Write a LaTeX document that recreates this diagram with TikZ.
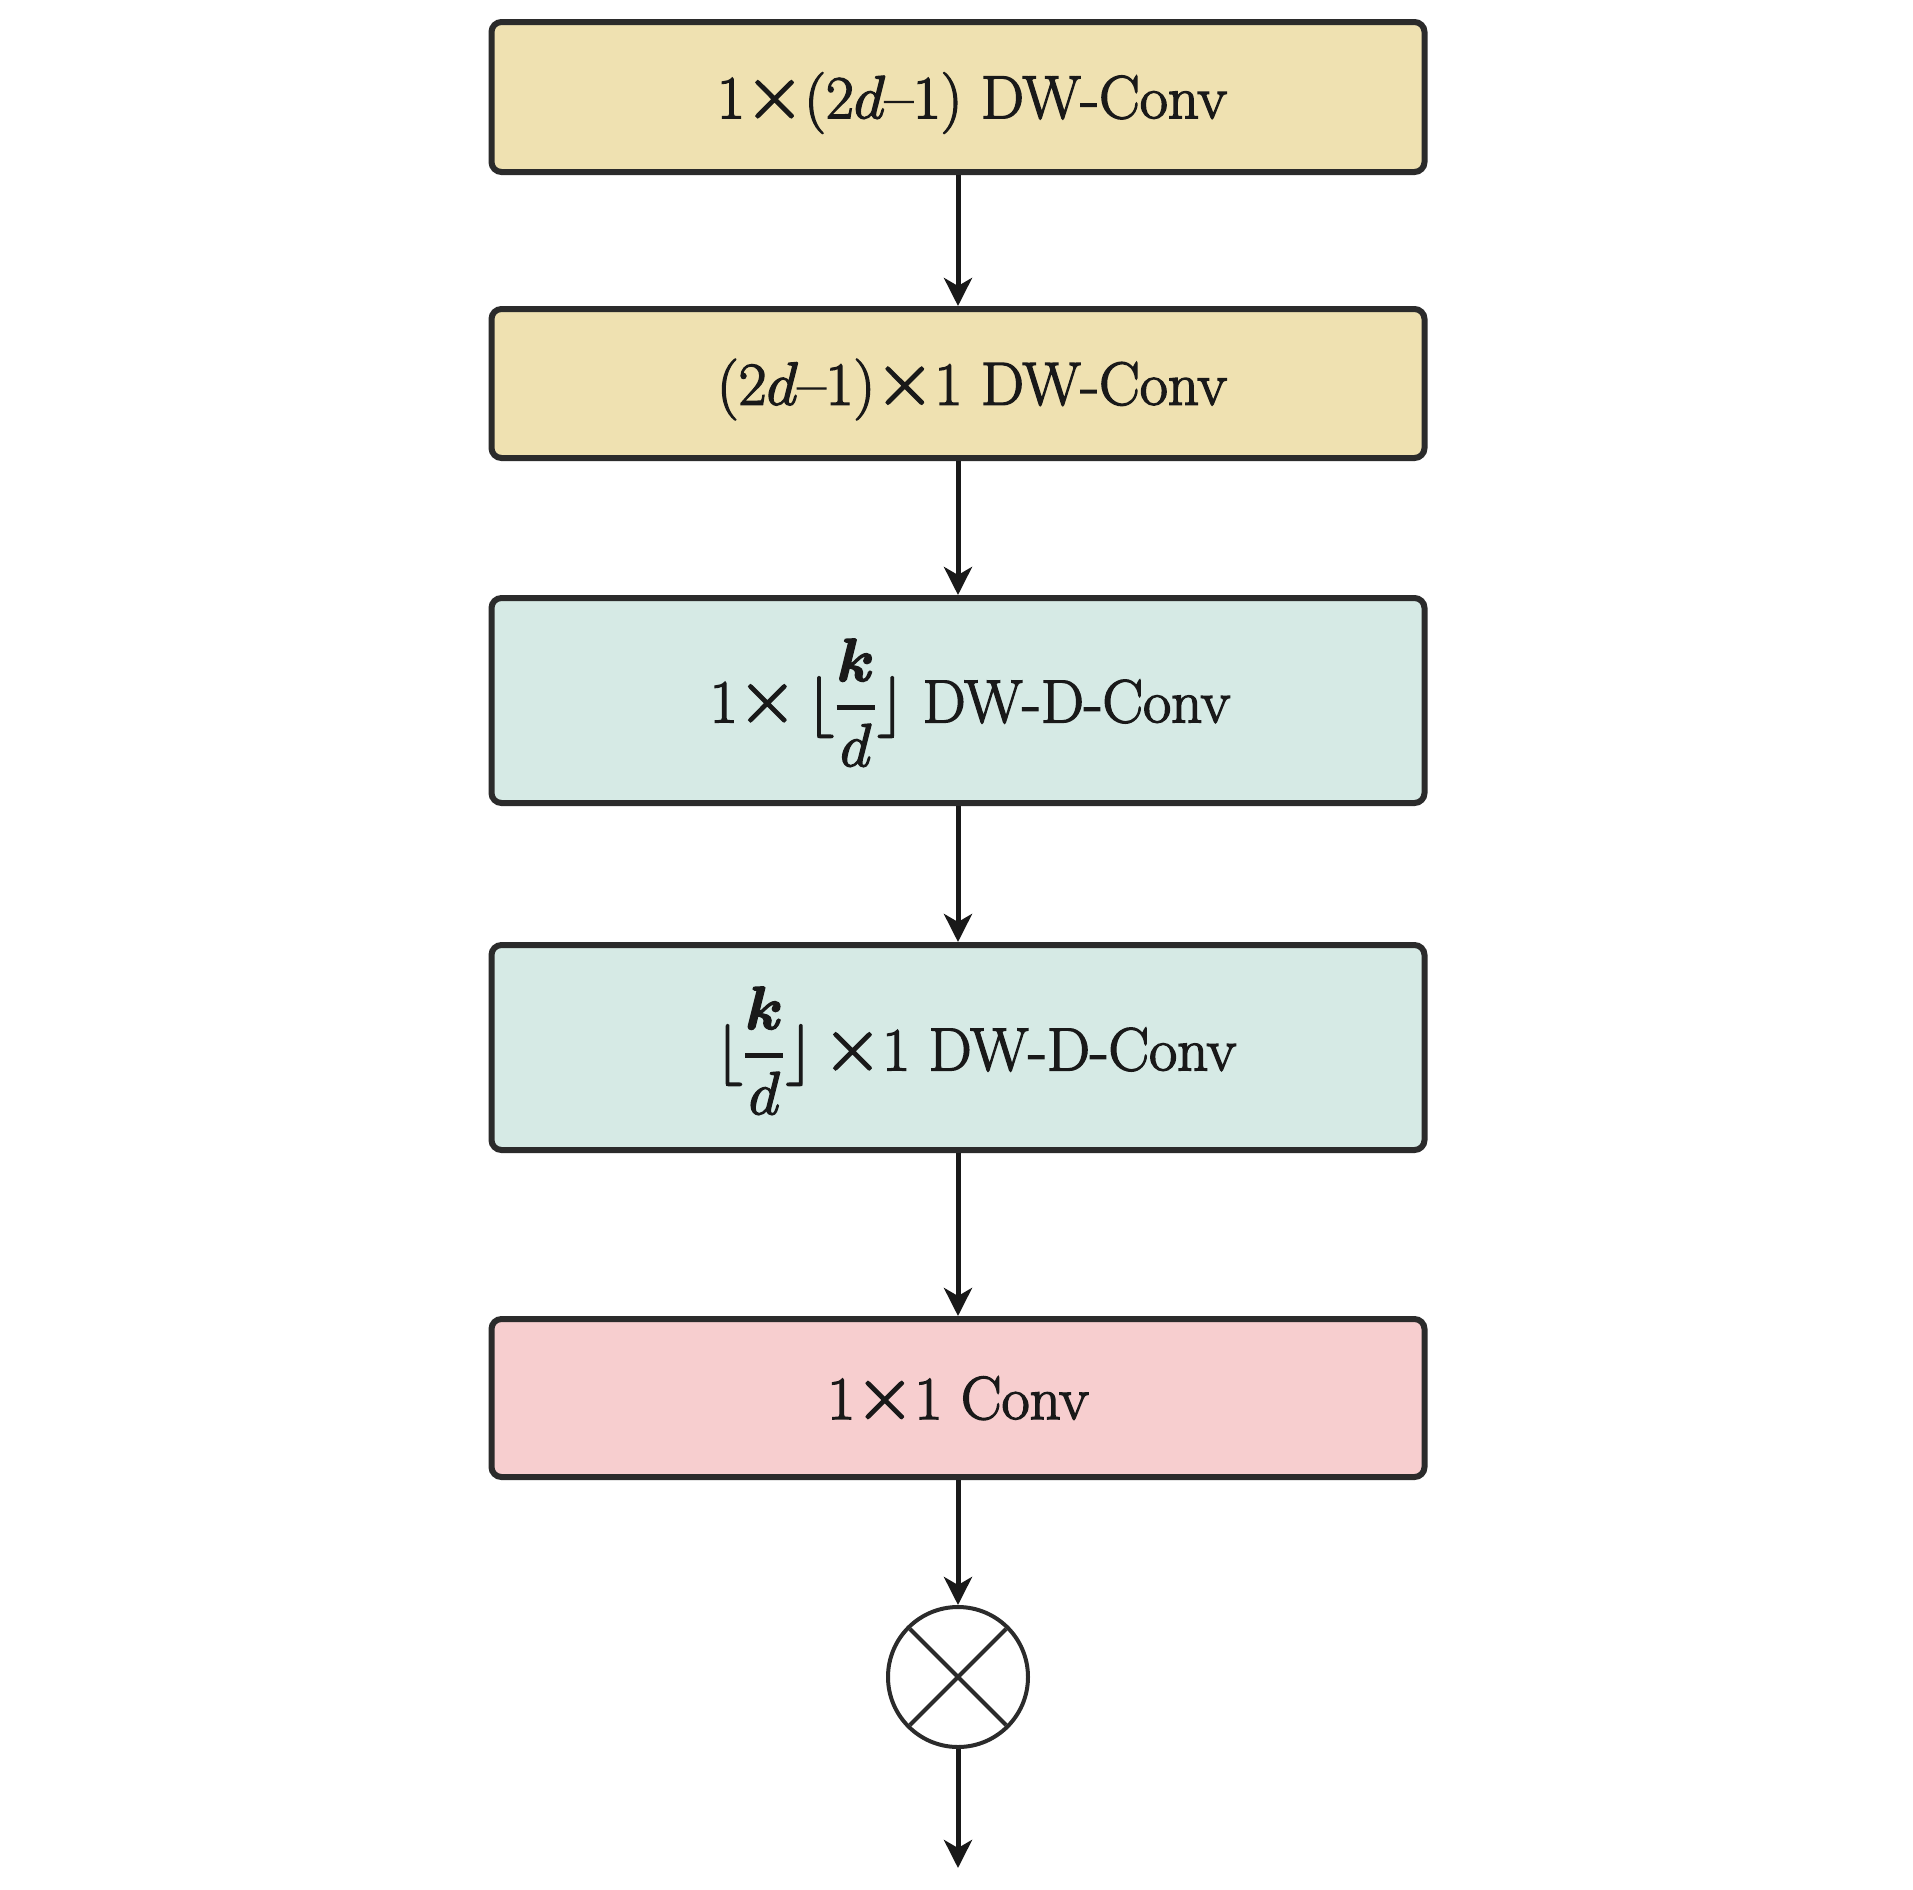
\RequirePackage{fix-cm}
\documentclass[tikz,border=0pt]{standalone}
\usepackage{amsmath}
\usepackage{graphicx}
\usetikzlibrary{arrows.meta}
\definecolor{ylw}{HTML}{EFE1B1}
\definecolor{teal2}{HTML}{D6EAE5}
\definecolor{pnk}{HTML}{F7CECF}
\definecolor{edge}{HTML}{2B2B2B}
\newcommand{\fr}{\genfrac{}{}{2.4pt}{0}{\boldsymbol{k}}{d}}
\newcommand{\tx}{\mathbin{\scalebox{1.25}{$\times$}}}
\newcommand{\mn}{\mathbin{\text{--}}}
\newcommand{\heavy}[1]{\special{pdf:literal direct 2 Tr 0.7 w}#1\special{pdf:literal direct 0 Tr}}
\newcommand{\lbl}[2]{\raisebox{#1}[\height][\depth]{\heavy{#2}}}
\begin{document}
\begin{tikzpicture}[x=0.5pt,y=-0.5pt,
  blk/.style={draw=edge,line width=3pt,rounded corners=5pt,minimum width=466.5pt,
    inner sep=0pt,font=\fontsize{30.5}{36}\selectfont,text=black!90},
  conn/.style={line width=2.5pt,draw=black!90,-{Stealth[length=14pt,width=14pt,inset=4pt]}}]
\useasboundingbox (0,0) rectangle (1913,1890);
\node[blk,fill=ylw,minimum height=75pt] (b1) at (958,97) {\hspace*{14pt}\lbl{-3pt}{$1{\tx}(2d{\mn}1)$ DW-Conv}};
\node[blk,fill=ylw,minimum height=74.5pt] (b2) at (958,383.5) {\hspace*{14pt}\lbl{-3pt}{$(2d{\mn}1){\tx}1$ DW-Conv}};
\node[blk,fill=teal2,minimum height=102.5pt] (b3) at (958,700.5) {\hspace*{12pt}\lbl{-1pt}{$1{\tx}\,\lfloor\fr\rfloor$ DW-D-Conv}};
\node[blk,fill=teal2,minimum height=102.5pt] (b4) at (958,1047.5) {\hspace*{18pt}\lbl{-1.5pt}{$\lfloor\fr\rfloor\,{\tx}1$ DW-D-Conv}};
\node[blk,fill=pnk,minimum height=79pt] (b5) at (958,1398) {\lbl{-1pt}{$1{\tx}1$ Conv}};
\node[circle,draw=edge,line width=2pt,minimum size=70pt,inner sep=0pt] (m) at (958,1677) {};
\draw[line width=2pt,draw=edge,shorten <=2pt,shorten >=2pt] (m.45) -- (m.225);
\draw[line width=2pt,draw=edge,shorten <=2pt,shorten >=2pt] (m.135) -- (m.-45);
\coordinate (out) at (958,1868);
\draw[conn] (b1) -- (b2);
\draw[conn] (b2) -- (b3);
\draw[conn] (b3) -- (b4);
\draw[conn] (b4) -- (b5);
\draw[conn] (b5) -- (m);
\draw[conn] (m) -- (out);
\end{tikzpicture}
\end{document}
